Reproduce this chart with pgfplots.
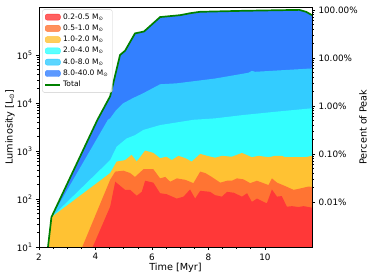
\documentclass[border=0pt]{standalone}
\usepackage{fontspec}
\setmainfont{DejaVu Sans}
\usepackage{pgfplots}
\pgfplotsset{compat=1.18}
\definecolor{cR}{HTML}{FF3838}
\definecolor{cO}{HTML}{FF7433}
\definecolor{cY}{HTML}{FFC233}
\definecolor{cC}{HTML}{33FFFF}
\definecolor{cL}{HTML}{33CCFF}
\definecolor{cB}{HTML}{3380FF}
\definecolor{cG}{HTML}{008000}
\begin{document}
\begin{tikzpicture}
\useasboundingbox (-39pt,-32pt) rectangle (334pt,247pt);
\begin{axis}[
  at={(0pt,0pt)}, anchor=south west,
  scale only axis, width=273pt, height=240pt,
  xmin=2, xmax=11.67, ymin=10, ymax=1e6, ymode=log,
  xtick={2,4,6,8,10}, minor x tick num=3,
  ytick={10,100,1000,10000,100000},
  yticklabels={10\textsuperscript{1},10\textsuperscript{2},10\textsuperscript{3},10\textsuperscript{4},10\textsuperscript{5}},
  /pgf/number format/assume math mode=true,
  tick align=outside, xtick pos=bottom, ytick pos=left,
  major tick length=3pt, minor tick length=1.8pt,
  tick style={black, line width=0.6pt},
  axis line style={line width=0.6pt},
  ticklabel style={font=\fontsize{8.8}{10}\selectfont},
  label style={font=\fontsize{9.7}{11}\selectfont},
  xlabel={Time [Myr]}, ylabel={Luminosity [L\textsubscript{⊙}]},
  xlabel style={at={(axis description cs:0.5,-0.088)}, anchor=center},
  ylabel style={at={(axis description cs:-0.106,0.5)}, anchor=center},
  legend style={at={(axis description cs:0.012,0.99)}, anchor=north west,
    font=\fontsize{7.5}{9}\selectfont, draw=black!20, rounded corners=2pt,
    fill=white, fill opacity=0.8, text opacity=1, row sep=0.2pt, inner sep=2pt,
    cells={anchor=west}},
]
% painter's order: cumulative tops, from the highest layer down
\addplot[fill=cB, draw=none, forget plot] coordinates {
(2.31,1) (2.31,9) (2.44,41.7) (4.07,4467) (4.52,13800) (4.87,100000) (5.05,123000)
(5.40,282000) (5.72,309000) (6.29,617000) (7.00,676000) (7.35,741000) (7.70,794000)
(9.20,832000) (11.22,871000) (11.46,794000) (11.67,676000) (11.67,1)} -- cycle;
\addplot[fill=cL, draw=none, forget plot] coordinates {
(2.31,1) (2.31,9) (2.44,41.7) (4.44,4467) (4.52,4786) (4.73,7079) (4.97,9772) (5.32,12590)
(5.68,15850) (6.29,24550) (6.88,25700) (8.24,32360) (9.42,42660) (9.54,46770) (9.66,44670)
(11.67,52480) (11.67,1)} -- cycle;
\addplot[fill=cC, draw=none, forget plot] coordinates {
(2.31,1) (2.31,9) (2.44,41.7) (4.52,646) (4.75,1230) (5.10,1820) (5.40,2138) (5.70,2754)
(6.29,3467) (7.47,4467) (8.24,4786) (9.24,5623) (10.42,6607) (11.67,7762) (11.67,1)} -- cycle;
\addplot[fill=cY, draw=none, forget plot] coordinates {
(2.31,1) (2.31,9) (2.44,41.7) (4.52,347) (4.75,603) (5.05,646) (5.28,832) (5.46,603)
(5.76,1023) (6.05,912) (6.29,708) (6.52,759) (6.70,646) (6.94,794) (7.18,708) (7.41,603)
(7.71,871) (7.95,794) (8.24,724) (8.48,794) (8.83,759) (9.19,912) (9.54,741) (9.78,794)
(10.13,741) (10.37,794) (10.60,794) (10.72,741) (11.43,741) (11.67,794) (11.67,1)} -- cycle;
\addplot[fill=cO, draw=none, forget plot] coordinates {
(3.50,1) (3.50,9) (4.52,251) (4.70,372) (4.99,389) (5.23,347) (5.40,288) (5.70,417)
(6.05,417) (6.29,269) (6.47,288) (6.65,229) (6.88,269) (7.18,251) (7.47,214) (7.71,372)
(7.89,347) (8.12,288) (8.42,219) (8.66,240) (8.83,240) (9.01,269) (9.24,257) (9.48,214)
(9.72,240) (9.95,214) (10.13,195) (10.25,269) (10.43,219) (10.72,186) (11.02,155)
(11.26,166) (11.55,182) (11.67,178) (11.67,1)} -- cycle;
\addplot[fill=cR, draw=none, forget plot] coordinates {
(3.87,1) (3.87,9) (4.52,69) (4.70,229) (5.05,155) (5.23,155) (5.46,117) (5.64,141)
(5.76,240) (6.05,219) (6.29,132) (6.52,126) (6.88,102) (7.12,112) (7.35,158) (7.53,102)
(7.71,148) (8.06,141) (8.24,120) (8.48,112) (8.66,141) (8.90,135) (9.19,112) (9.37,132)
(9.54,87) (9.72,102) (10.07,81) (10.25,158) (10.43,112) (10.60,115) (10.78,69) (10.96,71)
(11.19,68) (11.37,71) (11.67,66) (11.67,1)} -- cycle;
% total
\addplot[cG, line width=1.7pt, forget plot] coordinates {
(2.31,9) (2.44,41.7) (4.07,4467) (4.52,13800) (4.87,100000) (5.05,123000)
(5.40,282000) (5.72,309000) (6.29,617000) (7.00,676000) (7.35,741000) (7.70,794000)
(9.20,832000) (11.22,871000) (11.46,794000) (11.67,676000)};
\addlegendimage{legend image code/.code={\fill[cR] (0pt,-3pt) rectangle (15pt,3pt);}}
\addlegendentry{0.2-0.5 M\textsubscript{⊙}}
\addlegendimage{legend image code/.code={\fill[cO] (0pt,-3pt) rectangle (15pt,3pt);}}
\addlegendentry{0.5-1.0 M\textsubscript{⊙}}
\addlegendimage{legend image code/.code={\fill[cY] (0pt,-3pt) rectangle (15pt,3pt);}}
\addlegendentry{1.0-2.0 M\textsubscript{⊙}}
\addlegendimage{legend image code/.code={\fill[cC] (0pt,-3pt) rectangle (15pt,3pt);}}
\addlegendentry{2.0-4.0 M\textsubscript{⊙}}
\addlegendimage{legend image code/.code={\fill[cL] (0pt,-3pt) rectangle (15pt,3pt);}}
\addlegendentry{4.0-8.0 M\textsubscript{⊙}}
\addlegendimage{legend image code/.code={\fill[cB] (0pt,-3pt) rectangle (15pt,3pt);}}
\addlegendentry{8.0-40.0 M\textsubscript{⊙}}
\addlegendimage{legend image code/.code={\draw[cG, line width=1.7pt] (0pt,0pt) -- (15pt,0pt);}}
\addlegendentry{Total}
\end{axis}
\begin{axis}[
  at={(0pt,0pt)}, anchor=south west,
  scale only axis, width=273pt, height=240pt,
  xmin=2, xmax=11.67, axis x line=none, axis y line*=right,
  ymode=log, ymin=0.0011494, ymax=114.94,
  ytick={0.01,0.1,1,10,100},
  yticklabels={0.01\%,0.10\%,1.00\%,10.00\%,100.00\%},
  tick align=outside,
  major tick length=3pt, minor tick length=1.8pt,
  tick style={black, line width=0.6pt},
  axis line style={line width=0.6pt},
  ticklabel style={font=\fontsize{8.8}{10}\selectfont},
  label style={font=\fontsize{9.7}{11}\selectfont},
  ylabel={Percent of Peak},
  ylabel style={at={(axis description cs:1.187,0.5)}, anchor=center},
]
\addplot[draw=none] coordinates {(5,1)};
\end{axis}
\end{tikzpicture}
\end{document}
